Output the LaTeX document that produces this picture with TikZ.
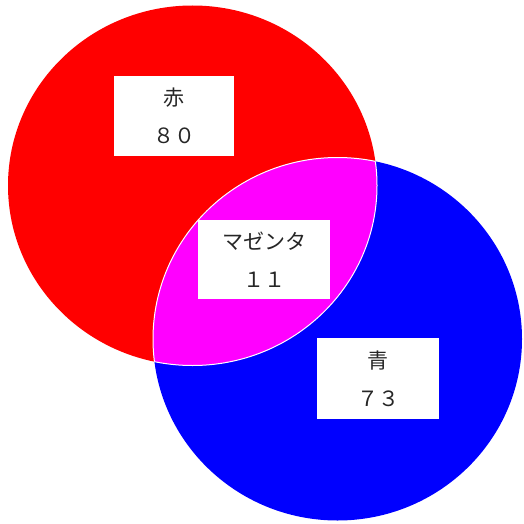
\documentclass[tikz,border=0pt]{standalone}
\usepackage{fontspec}
\setmainfont{Noto Sans CJK JP}

\begin{document}
\begin{tikzpicture}[x=.5pt,y=-.5pt,
  setR/.style={fill={rgb,255:red,255;green,0;blue,0}},
  setB/.style={fill={rgb,255:red,0;green,0;blue,255}},
  both/.style={fill={rgb,255:red,255;green,0;blue,255}},
  tag/.style={fill=white,inner sep=0pt,align=center,text=black!85,
    font=\fontsize{10.5}{19}\selectfont}]

\useasboundingbox[fill=white] (0,0) rectangle (524,524);

% the two sets
\fill[setR] (192.5,185.5) ellipse [x radius=92.25pt,y radius=90pt];
\fill[setB] (337.5,339) ellipse [x radius=92.25pt,y radius=90.75pt];

% overlap, with a thin white rim
\begin{scope}
  \clip (192.5,185.5) ellipse [x radius=92.25pt,y radius=90pt];
  \fill[both] (337.5,339) ellipse [x radius=92.25pt,y radius=90.75pt];
  \draw[white,line width=.5pt] (337.5,339) ellipse [x radius=92.25pt,y radius=90.75pt];
\end{scope}
\begin{scope}
  \clip (337.5,339) ellipse [x radius=92.25pt,y radius=90.75pt];
  \draw[white,line width=.5pt] (192.5,185.5) ellipse [x radius=92.25pt,y radius=90pt];
\end{scope}

% labels
\node[tag,minimum width=60pt,minimum height=40pt] (red) at (174,116) {赤\\８０};
\node[tag,minimum width=66pt,minimum height=39.5pt] (mag) at (264,259.5) {マゼンタ\\１１};
\node[tag,minimum width=61pt,minimum height=40.5pt] (blue) at (378,378.5) {青\\７３};
\end{tikzpicture}
\end{document}
